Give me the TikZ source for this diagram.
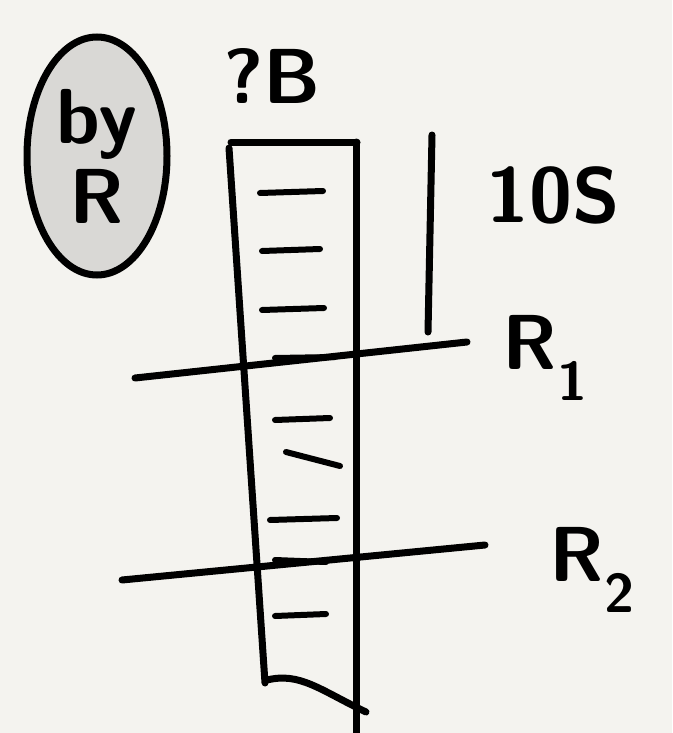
\documentclass[tikz,border=0pt]{standalone}
\usetikzlibrary{shapes.geometric}
\definecolor{paper}{HTML}{F4F3EF}
\definecolor{shade}{HTML}{D9D8D5}
\tikzset{
  stroke/.style={line width=7pt, black, line cap=round, line join=round},
  tick/.style={line width=6pt, black, line cap=round},
  hand/.style={font=\sffamily\bfseries\fontsize{78}{80}\selectfont, inner sep=0pt},
}
\begin{document}
\begin{tikzpicture}[x=1pt,y=-1pt]
\useasboundingbox (0,0) rectangle (672,733);
\fill[paper] (0,0) rectangle (672,733);
\clip (0,0) rectangle (672,733);
\node[draw, ellipse, fill=shade, line width=7pt, minimum width=140pt, minimum height=238pt, align=center, hand] (byr) at (97,156) {by\\R};
\node[hand] (qb) at (272,76) {?B};
\node[hand] (tens) at (553,195) {10S};
\node[hand] (r1) at (545,358) {R\textsubscript{1}};
\node[hand] (r2) at (592,570) {R\textsubscript{2}};
% the tube
\draw[stroke] (231,142) -- (357,142);
\draw[stroke] (229,148) -- (265,683);
\draw[stroke] (356,142) -- (356,740);
\draw[stroke] (267,680) .. controls (300,672) and (320,690) .. (366,712);
% marks inside
\foreach \y/\a/\b in {193/260/323, 251/262/320, 310/262/324, 420/275/330, 520/270/337, 616/275/326}
  \draw[tick] (\a,\y) -- (\b,\y-2);
\draw[tick] (286,452) -- (340,466);
\draw[tick] (275,358) -- (335,357);
\draw[tick] (275,560) -- (326,562);
% 10S bar and the two cuts
\draw[stroke] (432,135) -- (428,332);
\draw[stroke] (135,378) -- (467,342);
\draw[stroke] (122,580) -- (485,545);
\end{tikzpicture}
\end{document}
